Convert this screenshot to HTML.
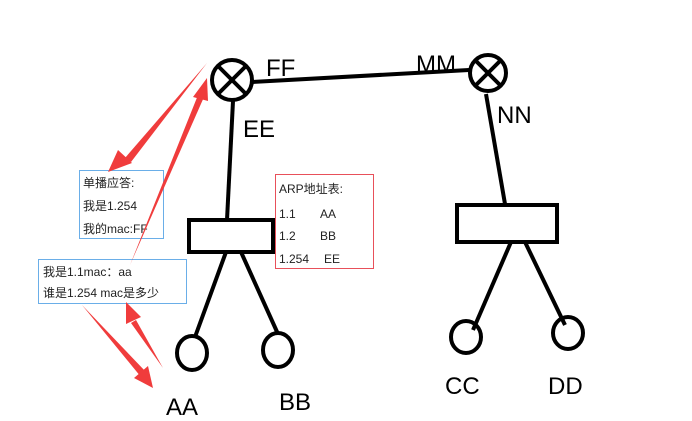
<!DOCTYPE html>
<html><head><meta charset="utf-8"><style>
body{margin:0;background:#fff;}
svg{display:block}
text{font-family:"Liberation Sans","Noto Sans CJK SC",sans-serif;}
</style></head><body>
<svg width="692" height="421" viewBox="0 0 692 421">
<g stroke="#000" stroke-width="4" fill="none">
<line x1="252" y1="82" x2="469" y2="70"/>
<circle cx="232" cy="80" r="20"/>
<line x1="218" y1="66" x2="246" y2="94"/><line x1="246" y1="66" x2="218" y2="94"/>
<circle cx="488" cy="73" r="18"/>
<line x1="476" y1="61" x2="500" y2="85"/><line x1="500" y1="61" x2="476" y2="85"/>
<line x1="233" y1="101" x2="227" y2="220"/>
<rect x="189" y="220" width="84" height="32"/>
<line x1="226" y1="252" x2="195" y2="337"/>
<line x1="241" y1="252" x2="278" y2="334"/>
<ellipse cx="192" cy="353" rx="15" ry="17"/>
<ellipse cx="278" cy="350" rx="15" ry="17"/>
<line x1="486" y1="94" x2="505" y2="204"/>
<rect x="457" y="205" width="100" height="37"/>
<line x1="511" y1="242" x2="473" y2="330"/>
<line x1="525" y1="242" x2="565" y2="325"/>
<ellipse cx="466" cy="337" rx="15" ry="16"/>
<ellipse cx="568" cy="333" rx="15" ry="16"/>
</g>
<g font-size="24" fill="#000">
<text x="266" y="76">FF</text>
<text x="243" y="137">EE</text>
<text x="416" y="72">MM</text>
<text x="497" y="123">NN</text>
<text x="166" y="415">AA</text>
<text x="279" y="410">BB</text>
<text x="445" y="394">CC</text>
<text x="548" y="394">DD</text>
</g>
<rect x="79.5" y="170.5" width="84" height="68" fill="#fff" stroke="#6aaee8"/>
<rect x="38.5" y="259.5" width="148" height="44" fill="#fff" stroke="#6aaee8"/>
<rect x="275.5" y="174.5" width="98" height="94" fill="#fff" stroke="#e8505a"/>
<g font-size="12" fill="#222">
<text x="83" y="187">单播应答:</text>
<text x="83" y="210">我是1.254</text>
<text x="83" y="233">我的mac:FF</text>
<text x="43" y="276">我是1.1mac：aa</text>
<text x="43" y="297">谁是1.254 mac是多少</text>
<text x="279" y="193">ARP地址表:</text>
<text x="279" y="218">1.1</text><text x="320" y="218">AA</text>
<text x="279" y="240">1.2</text><text x="320" y="240">BB</text>
<text x="279" y="263">1.254</text><text x="324" y="263">EE</text>
</g>
<g fill="#f03c3c">
<polygon points="207,63 125,158 131,162"/>
<polygon points="108,172 118,150 132,163"/>
<polygon points="130,265 198,95 204,97"/>
<polygon points="207,78 193,97 208,101"/>
<polygon points="82,305 141,377 146,372"/>
<polygon points="153,388 134,378 148,366"/>
<polygon points="163,368 136,320 131,323"/>
<polygon points="126,302 126,324 141,317"/>
</g>
</svg>
</body></html>
